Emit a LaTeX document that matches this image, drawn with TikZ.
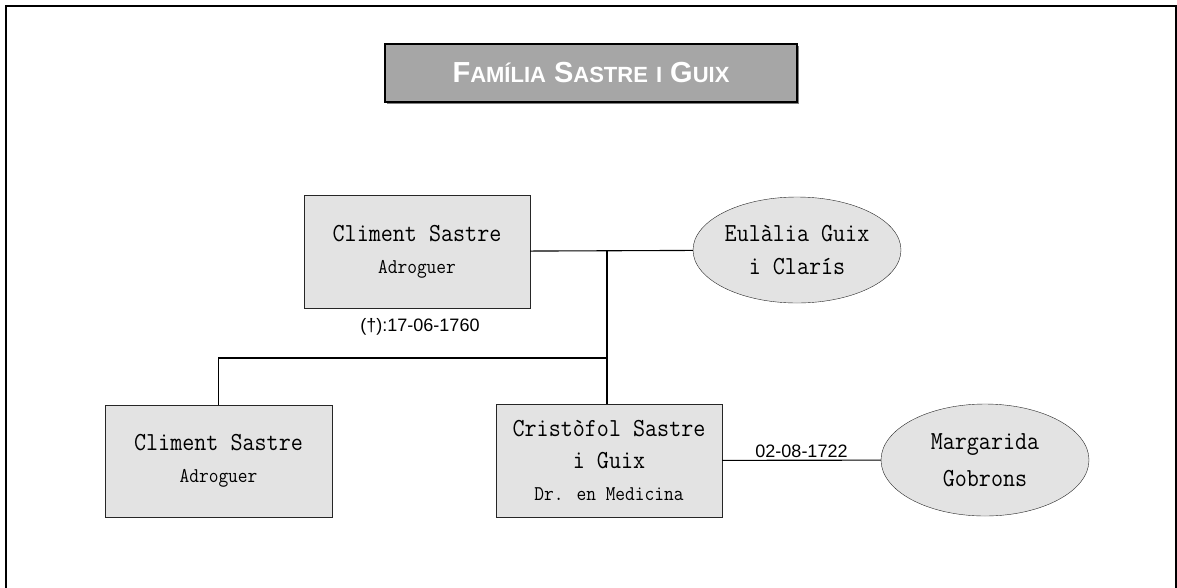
\documentclass[tikz,border=0pt]{standalone}
\usepackage{fontspec}
\setmainfont{Liberation Sans}
\newfontfamily\treefont[FakeStretch=0.9]{Latin Modern Mono}
\usetikzlibrary{shapes.geometric,shadows}
\definecolor{boxgray}{HTML}{E3E3E3}
\definecolor{titlegray}{HTML}{A6A6A6}
\newcommand{\smc}[1]{{\fontsize{22}{24}\selectfont #1}}
\newcommand{\subline}[1]{{\fontsize{21}{32}\selectfont #1}}

\begin{document}
\begin{tikzpicture}[x=1pt, y=-1pt,
    block/.style={rectangle, draw=black!85, fill=boxgray, minimum width=226pt, minimum height=113pt, align=center, inner sep=0pt, font=\treefont\fontsize{26}{32}\selectfont},
    spouse/.style={ellipse, draw=black!85, fill=boxgray, minimum width=208pt, minimum height=106pt, align=center, inner sep=0pt, font=\treefont\fontsize{26}{33}\selectfont},
    title/.style={rectangle, draw=black, line width=2.5pt, fill=titlegray, minimum width=412pt, minimum height=58pt, text=white, font=\bfseries\fontsize{29}{32}\selectfont, drop shadow={shadow xshift=1.5pt, shadow yshift=-1.5pt, fill=gray, opacity=1}},
    date/.style={font=\fontsize{18}{20}\selectfont, inner sep=2pt},
    line/.style={draw, line width=1.1pt}]
    \useasboundingbox (0,0) rectangle (1177,587);
    \draw [line width=1.5pt] (6,600) -- (6,6) -- (1176,6) -- (1176,600);

    \node [title] (title) at (591,73) {F\smc{AMÍLIA} S\smc{ASTRE} \smc{I} G\smc{UIX}};

    \node [block] (climentA) at (417,251.5) {Climent Sastre\\\subline{Adroguer}};
    \node [date] (deathA) at (420,327) {(†):17-06-1760};
    \node [spouse] (eulalia) at (797,250) {Eulàlia Guix\\i Clarís};
    \coordinate (union) at (607,250);
    \coordinate (fork) at (607,358);

    \node [block, minimum width=227pt, minimum height=112pt] (climentB) at (218.5,461) {Climent Sastre\\\subline{Adroguer}};
    \node [block] (cristofol) at (609,460.5) {Cristòfol Sastre\\i Guix\\\subline{Dr. en Medicina}};
    \node [spouse, minimum height=112pt, font=\treefont\fontsize{26}{37}\selectfont] (margarida) at (985,460) {Margarida\\Gobrons};

    \path [line] (climentA) -- (eulalia);
    \path [line] (union) -- (union |- cristofol.north);
    \path [line] (fork) -| (climentB.north);
    \path [line] (cristofol) -- node [date, above] (wedding) {02-08-1722} (margarida);
\end{tikzpicture}
\end{document}
